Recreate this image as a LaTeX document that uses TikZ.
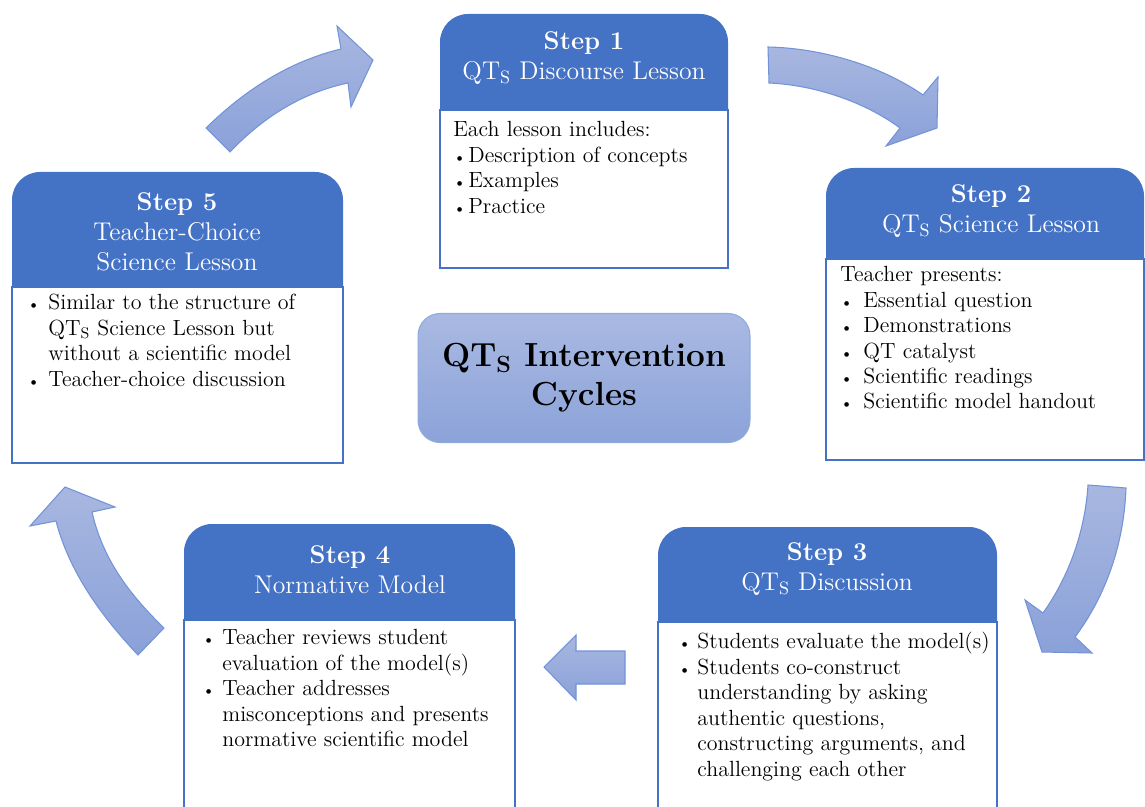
\documentclass[tikz,border=0pt]{standalone}
\usepackage{tikz}
\usetikzlibrary{calc}

\definecolor{stepblue}{HTML}{4472C4}
\definecolor{arrowlight}{HTML}{A8B7E0}
\definecolor{arrowdark}{HTML}{8AA1D9}
\definecolor{arrowline}{HTML}{7393D8}
\definecolor{hubtop}{HTML}{A9B9E2}
\definecolor{hubbottom}{HTML}{8CA3D9}
\definecolor{hubline}{HTML}{8FAADC}

\newcommand{\QTs}{QT\textsubscript{S}}
\newcommand{\bl}[1][4mm]{\makebox[#1][l]{\small\textbullet}}

\tikzset{
  head/.style={fill=stepblue, rounded corners=0.56cm},
  bodybox/.style={fill=white, draw=stepblue, line width=0.8pt},
  headtext/.style={text=white, align=center, inner sep=0pt,
    font=\fontsize{14.6}{17.2}\selectfont},
  bodytext/.style={anchor=north west, align=left, inner sep=0pt,
    font=\fontsize{12.5}{14.5}\selectfont},
  bigarrow/.style={top color=arrowlight, bottom color=arrowdark,
    draw=arrowline, line width=0.6pt},
  hub/.style={top color=hubtop, bottom color=hubbottom, draw=hubline,
    line width=0.6pt, rounded corners=0.44cm, align=center,
    minimum width=6.64cm, minimum height=2.58cm,
    font=\bfseries\fontsize{19}{22}\selectfont}
}

\begin{document}
\begin{tikzpicture}[x=0.02cm, y=-0.02cm]
    \useasboundingbox (0,0) rectangle (1145,807);

    % curved arrows round the cycle
    \draw[bigarrow] (206,128) .. controls (250,85) and (295,60) .. (341,49)
        -- (337,26) -- (373,60) -- (351,107) -- (348,83)
        .. controls (305,92) and (265,115) .. (230,152) -- cycle;
    \draw[bigarrow] (768,47) .. controls (820,48) and (880,65) .. (923,95)
        -- (938,77) -- (937,128) -- (886,146) -- (900,128)
        .. controls (865,102) and (815,85) .. (769,83) -- cycle;
    \draw[bigarrow] (1088,485) .. controls (1085,530) and (1070,575) .. (1043,613)
        -- (1025,600) -- (1042,652) -- (1092,653) -- (1075,637)
        .. controls (1105,597) and (1124,545) .. (1126,488) -- cycle;
    \draw[bigarrow] (544,667) -- (576,635) -- (576,651) -- (625,651)
        -- (625,684) -- (576,684) -- (576,700) -- cycle;
    \draw[bigarrow] (138,655) .. controls (105,620) and (70,575) .. (56,521)
        -- (30,526) -- (65,487) -- (115,507) -- (92,512)
        .. controls (103,560) and (130,595) .. (164,628) -- cycle;

    % step boxes
    \fill[head] (440,14) rectangle (728,140);
    \draw[bodybox] (440,110) rectangle (728,268);
    \fill[head] (826,168) rectangle (1144,290);
    \draw[bodybox] (826,259) rectangle (1144,460);
    \fill[head] (12,172) rectangle (343,315);
    \draw[bodybox] (12,287) rectangle (343,463);
    \fill[head] (184,524) rectangle (515,650);
    \draw[bodybox] (184,620) rectangle (515,830);
    \fill[head] (658,527) rectangle (997,650);
    \draw[bodybox] (658,622) rectangle (997,830);

    \node[headtext] (s1head) at (584,58) {\textbf{Step 1}\\\QTs{} Discourse Lesson};
    \node[headtext] (s2head) at (991,211) {\textbf{Step 2}\\\QTs{} Science Lesson};
    \node[headtext] (s5head) at (177,232) {\textbf{Step 5}\\Teacher-Choice\\Science Lesson};
    \node[headtext] (s4head) at (350,570) {\textbf{Step 4}\\Normative Model};
    \node[headtext] (s3head) at (827,569) {\textbf{Step 3}\\\QTs{} Discussion};

    \node[bodytext] (s1body) at (453,121) {Each lesson includes:\\
        \bl[3mm]Description of concepts\\ \bl[3mm]Examples\\ \bl[3mm]Practice};
    \node[bodytext] (s2body) at (840,266) {Teacher presents:\\
        \bl[4.6mm]Essential question\\ \bl[4.6mm]Demonstrations\\
        \bl[4.6mm]QT catalyst\\ \bl[4.6mm]Scientific readings\\
        \bl[4.6mm]Scientific model handout};
    \node[bodytext] (s5body) at (27,294) {\bl[4.2mm]Similar to the structure of\\
        \hspace*{4.2mm}\QTs{} Science Lesson but\\
        \hspace*{4.2mm}without a scientific model\\
        \bl[4.2mm]Teacher-choice discussion};
    \node[bodytext] (s4body) at (202,629) {\bl Teacher reviews student\\
        \hspace*{4mm}evaluation of the model(s)\\
        \bl Teacher addresses\\
        \hspace*{4mm}misconceptions and presents\\
        \hspace*{4mm}normative scientific model};
    \node[bodytext] (s3body) at (678,632) {\bl[3.8mm]Students evaluate the model(s)\\
        \bl[3.8mm]Students co-construct\\
        \hspace*{3.8mm}understanding by asking\\
        \hspace*{3.8mm}authentic questions,\\
        \hspace*{3.8mm}constructing arguments, and\\
        \hspace*{3.8mm}challenging each other};

    % centre
    \node[hub] (hub) at (584,378) {\QTs{} Intervention\\Cycles};
\end{tikzpicture}
\end{document}
